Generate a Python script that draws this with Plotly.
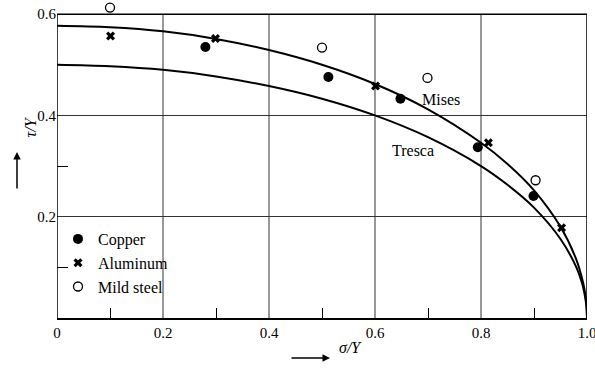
import plotly.graph_objects as go

# ---- data ----
sigma_curve = [0, 0.1, 0.2, 0.3, 0.4, 0.5, 0.6, 0.7, 0.8, 0.85, 0.9, 0.95, 0.98, 0.99, 0.995, 0.999, 1.0]
mises_tau = [0.577, 0.574, 0.566, 0.551, 0.529, 0.500, 0.462, 0.412, 0.346, 0.304, 0.252, 0.180, 0.115, 0.081, 0.058, 0.026, 0.0]
tresca_tau = [0.500, 0.497, 0.490, 0.477, 0.458, 0.433, 0.400, 0.357, 0.300, 0.263, 0.218, 0.156, 0.100, 0.071, 0.050, 0.022, 0.0]

copper_x = [0.28, 0.512, 0.648, 0.794, 0.899]
copper_y = [0.535, 0.476, 0.433, 0.337, 0.241]

alu_x = [0.101, 0.299, 0.601, 0.814, 0.952]
alu_y = [0.557, 0.552, 0.458, 0.346, 0.178]

steel_x = [0.100, 0.500, 0.699, 0.903]
steel_y = [0.613, 0.534, 0.474, 0.272]

x_ticks = [0, 0.2, 0.4, 0.6, 0.8, 1.0]
x_ticktext = ["0", "0.2", "0.4", "0.6", "0.8", "1.0"]
y_ticks = [0.2, 0.4, 0.6]
y_ticktext = ["0.2", "0.4", "0.6"]
x_minor = [0.1, 0.3, 0.5, 0.7, 0.9]
y_minor = [0.1, 0.3]

X_MAX, Y_MAX = 1.0, 0.6
FONT = "Liberation Serif"

fig = go.Figure()
fig.add_trace(go.Scatter(x=sigma_curve, y=mises_tau, mode="lines", line=dict(color="black", width=2),
                         showlegend=False, line_shape="spline"))
fig.add_trace(go.Scatter(x=sigma_curve, y=tresca_tau, mode="lines", line=dict(color="black", width=2),
                         showlegend=False, line_shape="spline"))
fig.add_trace(go.Scatter(x=copper_x, y=copper_y, mode="markers", name="Copper",
                         marker=dict(symbol="circle", size=10, color="black")))
fig.add_trace(go.Scatter(x=alu_x, y=alu_y, mode="markers", name="Aluminum",
                         marker=dict(symbol="x", size=8, color="black", line=dict(width=0))))
fig.add_trace(go.Scatter(x=steel_x, y=steel_y, mode="markers", name="Mild steel", cliponaxis=False,
                         marker=dict(symbol="circle-open", size=9, color="black", line=dict(width=1.3))))

L, R, T, B = 57, 8, 4, 51
W, H = 595, 369
pw, ph = W - L - R, H - T - B

def px2paper(px, py):
    return (px - L) / pw, (H - B - py) / ph

annotations = []
annotations.append(dict(x=0.7245, y=0.432, xref="x", yref="y", text="Mises", showarrow=False,
                        font=dict(family=FONT, size=16, color="black")))
annotations.append(dict(x=0.671, y=0.330, xref="x", yref="y", text="Tresca", showarrow=False,
                        font=dict(family=FONT, size=16, color="black")))
ax_, ay_ = px2paper(17, 152)
annotations.append(dict(x=ax_, y=ay_, xref="paper", yref="paper", text="", showarrow=True,
                        ax=0, ay=38, arrowhead=2, arrowsize=1, arrowwidth=1.5, arrowcolor="black"))
tx, ty = px2paper(19, 127)
annotations.append(dict(x=tx, y=ty, xref="paper", yref="paper", text="<i>τ/Y</i>", textangle=-90,
                        showarrow=False, font=dict(family=FONT, size=16, color="black")))
bx, by = px2paper(330, 358)
annotations.append(dict(x=bx, y=by, xref="paper", yref="paper", text="", showarrow=True,
                        ax=-40, ay=0, arrowhead=2, arrowsize=1, arrowwidth=1.5, arrowcolor="black"))
sx, sy = px2paper(350, 358)
annotations.append(dict(x=sx, y=sy, xref="paper", yref="paper", text="<i>σ/Y</i>",
                        showarrow=False, font=dict(family=FONT, size=16, color="black")))

shapes = []
# vertical gridlines (stop at the top frame)
for v in x_ticks[1:-1]:
    shapes.append(dict(type="line", xref="x", yref="y", x0=v, x1=v, y0=0, y1=Y_MAX, layer="below",
                       line=dict(color="#333", width=1)))
# frame
shapes.append(dict(type="line", xref="x", yref="y", x0=0, x1=X_MAX, y0=Y_MAX, y1=Y_MAX,
                   line=dict(color="black", width=1.5)))
shapes.append(dict(type="line", xref="x", yref="y", x0=X_MAX, x1=X_MAX, y0=0, y1=Y_MAX,
                   line=dict(color="black", width=1.5)))
shapes.append(dict(type="line", xref="x", yref="y", x0=0, x1=0, y0=0, y1=Y_MAX,
                   line=dict(color="black", width=1.5)))

lx, ly = px2paper(58, 222)

fig.update_layout(
    width=W, height=H,
    margin=dict(l=L, r=R, t=T, b=B, autoexpand=False),
    paper_bgcolor="white", plot_bgcolor="white",
    font=dict(family=FONT, size=15, color="black"),
    annotations=annotations,
    shapes=shapes,
    legend=dict(x=lx, y=ly, xanchor="left", yanchor="top", bgcolor="rgba(0,0,0,0)",
                font=dict(family=FONT, size=16, color="black"), itemwidth=30, tracegroupgap=0),
)
fig.update_xaxes(range=[0, X_MAX], tickvals=x_ticks, ticktext=x_ticktext, showgrid=False,
                 showline=True, linecolor="black", linewidth=1.5, ticklabeloverflow="allow",
                 automargin=False, mirror=False, ticks="", zeroline=False,
                 minor=dict(tickvals=x_minor, ticks="inside", ticklen=10, tickcolor="black", tickwidth=1,
                            showgrid=False))
fig.update_yaxes(range=[0, 0.62], tickvals=y_ticks, ticktext=y_ticktext, showgrid=True,
                 gridcolor="#333", gridwidth=1, showline=False, automargin=False,
                 mirror=False, ticks="", zeroline=False,
                 minor=dict(tickvals=y_minor, ticks="inside", ticklen=11, tickcolor="black", tickwidth=1,
                            showgrid=False))

fig.write_html("out.html", config={"displayModeBar": False},
               post_script="document.body.style.margin='0px';")
